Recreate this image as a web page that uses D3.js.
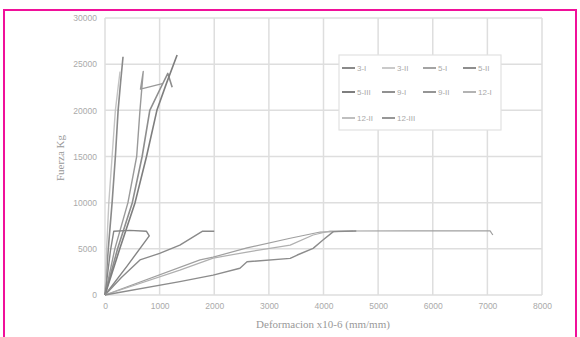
<!DOCTYPE html>
<html>
<head>
<meta charset="utf-8">
<script src="https://cdn.jsdelivr.net/npm/d3@7"></script>
<style>
  html, body { margin: 0; padding: 0; background: #fff; }
  svg { display: block; }
</style>
</head>
<body>
<svg id="chart" width="580" height="337"></svg>
<script>
// Axis ticks
const xTicks = [0, 1000, 2000, 3000, 4000, 5000, 6000, 7000, 8000];
const yTicks = [0, 5000, 10000, 15000, 20000, 25000, 30000];

// Specimen names (legend order)
const seriesNames = ["3-I", "3-II", "5-I", "5-II", "5-III", "9-I", "9-II", "12-I", "12-II", "12-III"];

// Strain (x10-6 mm/mm) and force (Kg) readings for each specimen
const s3I_strain  = [0, 60, 130, 190, 240, 285, 330];
const s3I_force   = [0, 5000, 10000, 15000, 20000, 23000, 25800];

const s3II_strain = [0, 30, 70, 130, 190, 240, 275];
const s3II_force  = [0, 5000, 10000, 15000, 20000, 22500, 24200];

const s5I_strain  = [0, 180, 420, 580, 640, 700, 650, 1050];
const s5I_force   = [0, 5000, 10000, 15000, 20000, 24200, 22300, 22900];

const s5II_strain = [0, 230, 500, 680, 820, 1000, 1150, 1230];
const s5II_force  = [0, 5000, 10000, 15000, 20000, 22200, 24000, 22500];

const s5III_strain = [0, 270, 550, 760, 950, 1130, 1320];
const s5III_force  = [0, 5000, 10000, 15000, 20000, 23000, 26000];

const s9I_strain  = [0, 100, 160, 450, 760, 810, 400, 0];
const s9I_force   = [0, 4800, 6900, 7000, 6900, 6400, 3100, 0];

const s9II_strain = [0, 300, 640, 1000, 1370, 1780, 2000];
const s9II_force  = [0, 1900, 3800, 4500, 5400, 6900, 6900];

const s12I_strain = [0, 1740, 1980, 2600, 3390, 3940, 4500, 5500, 7050, 7100];
const s12I_force  = [0, 3800, 4100, 5100, 6150, 6820, 6930, 6950, 6950, 6500];

const s12II_strain = [0, 1370, 1980, 2600, 3390, 3810, 4120, 4540];
const s12II_force  = [0, 2700, 4000, 4650, 5400, 6500, 6930, 6930];

const s12III_strain = [0, 1370, 1980, 2470, 2600, 3390, 3520, 3810, 3990, 4180, 4600];
const s12III_force  = [0, 1450, 2150, 2900, 3600, 3970, 4330, 5050, 5950, 6860, 6930];

const strainSets = [s3I_strain, s3II_strain, s5I_strain, s5II_strain, s5III_strain,
                    s9I_strain, s9II_strain, s12I_strain, s12II_strain, s12III_strain];
const forceSets  = [s3I_force, s3II_force, s5I_force, s5II_force, s5III_force,
                    s9I_force, s9II_force, s12I_force, s12II_force, s12III_force];

// Line styles per specimen
const lineColors = ["#8a8a8a", "#c4c4c4", "#9a9a9a", "#8e8e8e", "#7e7e7e",
                    "#858585", "#8a8a8a", "#a0a0a0", "#b0b0b0", "#8c8c8c"];
const lineWidths = [1.6, 1.4, 1.4, 1.6, 1.6, 1.4, 1.4, 1.2, 1.2, 1.4];

const svg = d3.select("#chart");

// Page frame
svg.append("rect")
  .attr("x", 4).attr("y", 10)
  .attr("width", 572).attr("height", 345)
  .attr("fill", "none")
  .attr("stroke", "#f0109a")
  .attr("stroke-width", 2);

const plot = { left: 105, right: 542, top: 18, bottom: 295 };

const x = d3.scaleLinear().domain([0, 8000]).range([plot.left, plot.right]);
const y = d3.scaleLinear().domain([0, 30000]).range([plot.bottom, plot.top]);

// Grid
const grid = svg.append("g");
grid.selectAll("line.v").data(xTicks).join("line")
  .attr("x1", d => x(d)).attr("x2", d => x(d))
  .attr("y1", plot.top).attr("y2", plot.bottom)
  .attr("stroke", "#dedede").attr("stroke-width", 1.5);
grid.selectAll("line.h").data(yTicks).join("line")
  .attr("x1", plot.left).attr("x2", plot.right)
  .attr("y1", d => y(d)).attr("y2", d => y(d))
  .attr("stroke", "#dedede").attr("stroke-width", 1.5);

// Axes (labels only, lines come from the grid)
const xAxis = svg.append("g")
  .attr("transform", `translate(0,${plot.bottom + 5})`)
  .call(d3.axisBottom(x).tickValues(xTicks).tickSize(0).tickPadding(3).tickFormat(d3.format("d")));
const yAxis = svg.append("g")
  .attr("transform", `translate(${plot.left - 6},0)`)
  .call(d3.axisLeft(y).tickValues(yTicks).tickSize(0).tickPadding(2).tickFormat(d3.format("d")));
[xAxis, yAxis].forEach(a => {
  a.select(".domain").remove();
  a.selectAll("text")
    .attr("fill", "#aaa")
    .style("font-family", "Liberation Sans, Arial, sans-serif")
    .style("font-size", "8.5px");
});

// Axis titles
svg.append("text")
  .attr("x", 323).attr("y", 328)
  .attr("text-anchor", "middle")
  .attr("fill", "#999")
  .style("font-family", "Liberation Serif, Times New Roman, serif")
  .style("font-size", "11px")
  .text("Deformacion x10-6 (mm/mm)");
svg.append("text")
  .attr("transform", "translate(64,158) rotate(-90)")
  .attr("text-anchor", "middle")
  .attr("fill", "#999")
  .style("font-family", "Liberation Serif, Times New Roman, serif")
  .style("font-size", "11px")
  .text("Fuerza Kg");

// Curves
const line = d3.line().x(d => x(d[0])).y(d => y(d[1]));
const curves = svg.append("g");
seriesNames.forEach((name, i) => {
  const pts = strainSets[i].map((s, k) => [s, forceSets[i][k]]);
  curves.append("path")
    .datum(pts)
    .attr("d", line)
    .attr("fill", "none")
    .attr("stroke", lineColors[i])
    .attr("stroke-width", lineWidths[i])
    .attr("stroke-linejoin", "round");
});

// Legend
const legend = svg.append("g");
legend.append("rect")
  .attr("x", 339).attr("y", 55).attr("width", 162).attr("height", 75)
  .attr("fill", "#fff").attr("stroke", "#e2e2e2").attr("stroke-width", 1.2);
const colX = [342, 382, 423, 463];
const rowY = [68, 92, 118];
seriesNames.forEach((name, i) => {
  const cx = colX[i % 4], cy = rowY[Math.floor(i / 4)];
  legend.append("line")
    .attr("x1", cx).attr("x2", cx + 13)
    .attr("y1", cy).attr("y2", cy)
    .attr("stroke", lineColors[i]).attr("stroke-width", lineWidths[i] + 0.4);
  legend.append("text")
    .attr("x", cx + 15).attr("y", cy + 3)
    .attr("fill", "#aaa")
    .style("font-family", "Liberation Sans, Arial, sans-serif")
    .style("font-size", "8px")
    .text(name);
});
</script>
</body>
</html>
